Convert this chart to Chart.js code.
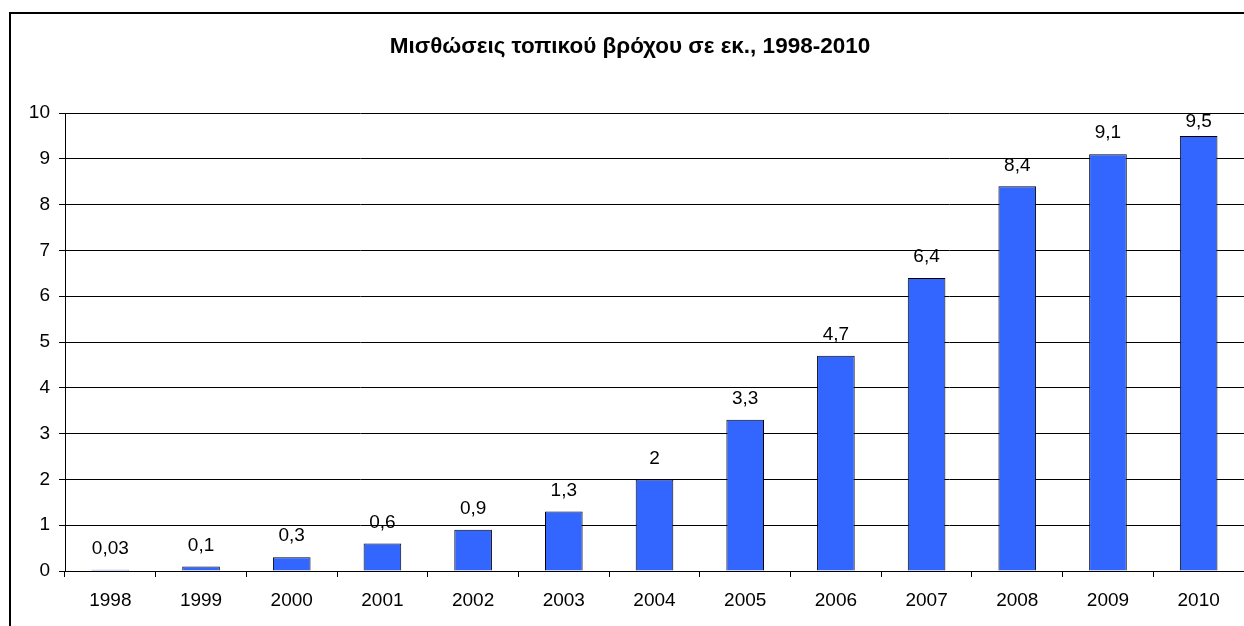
<!DOCTYPE html>
<html>
<head>
<meta charset="utf-8">
<script src="https://cdn.jsdelivr.net/npm/chart.js@4.4.0/dist/chart.umd.min.js"></script>
<style>
  body { margin: 0; background: #fff; }
  #wrap { width: 1244px; height: 626px; }
</style>
</head>
<body>
<div id="wrap"><canvas id="myBar" width="1244" height="626"></canvas></div>
<script>
const years = ["1998","1999","2000","2001","2002","2003","2004","2005","2006","2007","2008","2009","2010"];
const leases = [0.03, 0.1, 0.3, 0.6, 0.9, 1.3, 2, 3.3, 4.7, 6.4, 8.4, 9.1, 9.5];
const chartTitle = "Μισθώσεις τοπικού βρόχου σε εκ., 1998-2010";
const yMin = 0, yMax = 10, yStep = 1;

const fontFam = '"Liberation Sans", Arial, sans-serif';

// white background + outer frame (runs off the right/bottom edge like the original)
const framePlugin = {
    id: 'frame',
    beforeDraw(chart) {
        const ctx = chart.ctx
        ctx.save()
        ctx.fillStyle = '#fff'
        ctx.fillRect(0, 0, chart.width, chart.height)
        ctx.strokeStyle = '#000'
        ctx.lineWidth = 2
        ctx.strokeRect(10, 13, chart.width + 20, chart.height + 20)
        ctx.restore()
    }
}

// value labels above each bar, with decimal comma
const valuePlugin = {
    id: 'values',
    afterDatasetsDraw(chart) {
        const ctx = chart.ctx
        const meta = chart.getDatasetMeta(0)
        ctx.save()
        ctx.font = '19px ' + fontFam
        ctx.fillStyle = '#000'
        ctx.textAlign = 'center'
        ctx.textBaseline = 'middle'
        meta.data.forEach((bar, i) => {
            let txt = String(leases[i]).replace('.', ',')
            let y = Math.max(bar.y - 21, chart.chartArea.top + 9)
            ctx.fillText(txt, bar.x, y)
        })
        ctx.restore()
    }
}

const cvs = document.getElementById('myBar');
new Chart(cvs, {
    type: 'bar',
    data: {
        labels: years,
        datasets: [{
            label: 'Μισθώσεις',
            data: leases,
            backgroundColor: '#3366FF',
            borderColor: '#000',
            borderWidth: 1,
            categoryPercentage: 1,
            barPercentage: 0.415
        }]
    },
    options: {
        responsive: false,
        animation: false,
        devicePixelRatio: 1,
        layout: { padding: { left: 16, right: 0, top: 0, bottom: 0 } },
        plugins: {
            legend: { display: false },
            tooltip: { enabled: false },
            title: {
                display: true,
                text: chartTitle,
                color: '#000',
                font: { family: fontFam, size: 22.5, weight: 'bold', lineHeight: 1.2 },
                padding: { top: 33.5, bottom: 52.5 }
            }
        },
        scales: {
            x: {
                offset: true,
                grid: { offset: true, drawOnChartArea: false, drawTicks: true, tickLength: 6, color: '#000' },
                border: { color: '#000', width: 1 },
                ticks: { color: '#000', padding: 12, font: { family: fontFam, size: 19 }, maxRotation: 0 },
                afterFit(scale) { scale.height = 55 }
            },
            y: {
                min: yMin,
                max: yMax,
                grid: { color: '#000', tickLength: 6, drawTicks: true },
                border: { color: '#000', width: 1 },
                ticks: { stepSize: yStep, color: '#000', padding: 9, font: { family: fontFam, size: 19 } },
                afterFit(scale) { scale.width = 49 }
            }
        }
    },
    plugins: [framePlugin, valuePlugin]
});
</script>
</body>
</html>
